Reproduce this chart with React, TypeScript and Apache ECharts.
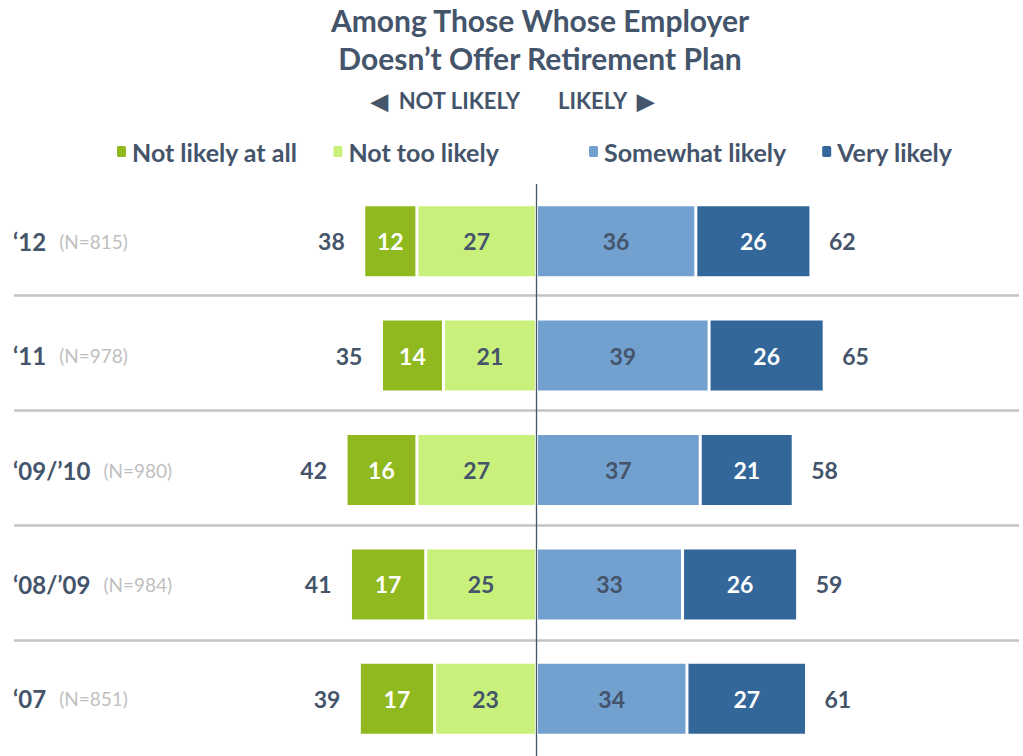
import React, { useEffect, useRef } from "react";
import * as echarts from "echarts";

const categories = ["\u201812", "\u201811", "\u201809/\u201910", "\u201808/\u201909", "\u201807"];
const sampleSizes = [815, 978, 980, 984, 851];
const notLikelyAtAll = [12, 14, 16, 17, 17];
const notTooLikely = [27, 21, 27, 25, 23];
const somewhatLikely = [36, 39, 37, 33, 34];
const veryLikely = [26, 26, 21, 26, 27];
const totalNotLikely = [38, 35, 42, 41, 39];
const totalLikely = [62, 65, 58, 59, 61];

const DARK = "#44546a";
const FONT = "Lato, 'Open Sans', sans-serif";

export default function App() {
  const ref = useRef<HTMLDivElement>(null);
  useEffect(() => {
    if (!ref.current) return;
    const chart = echarts.init(ref.current, undefined, { renderer: "svg" });
    const insideLabel = (color: string) => ({
      show: true,
      position: "inside",
      color,
      fontFamily: FONT,
      fontWeight: "bold",
      fontSize: 23,
      formatter: (p: any) => String(Math.abs(p.value)),
    });
    const barCommon = {
      type: "bar",
      stack: "total",
      barWidth: 73,
      itemStyle: { borderColor: "#ffffff", borderWidth: 1.5 },
    };
    const totalLabel = (position: string, distance: number, values: number[]) => ({
      show: true,
      position,
      distance,
      fontFamily: FONT,
      fontWeight: "bold",
      fontSize: 23,
      color: DARK,
      opacity: 1,
      formatter: (p: any) => String(values[p.dataIndex]),
    });
    const legendText = { fontFamily: FONT, fontWeight: "bold", fontSize: 25, color: DARK };
    chart.setOption({
      animation: false,
      backgroundColor: "#ffffff",
      title: {
        text: "Among Those Whose Employer\nDoesn\u2019t Offer Retirement Plan",
        left: 535,
        textAlign: "center",
        top: -4,
        textStyle: {
          fontFamily: FONT,
          fontWeight: "bold",
          fontSize: 30,
          lineHeight: 38,
          color: DARK,
        },
      },
      graphic: [
        {
          type: "text",
          x: 520,
          y: 100,
          style: {
            text: "\u25C0  NOT LIKELY",
            textAlign: "right",
            textVerticalAlign: "middle",
            font: `bold 22px ${FONT}`,
            fill: DARK,
          },
        },
        {
          type: "text",
          x: 558,
          y: 100,
          style: {
            text: "LIKELY  \u25B6",
            textAlign: "left",
            textVerticalAlign: "middle",
            font: `bold 22px ${FONT}`,
            fill: DARK,
          },
        },
      ],
      legend: [
        {
          data: ["Not likely at all", "Not too likely"],
          left: 115,
          top: 139,
          itemWidth: 11,
          itemHeight: 13,
          itemGap: 34,
          padding: 0,
          textStyle: legendText,
        },
        {
          data: ["Somewhat likely", "Very likely"],
          left: 587,
          top: 139,
          itemWidth: 11,
          itemHeight: 13,
          itemGap: 34,
          padding: 0,
          textStyle: legendText,
        },
      ],
      grid: [
        { left: 14, top: 184, width: 1005, height: 575, containLabel: false },
        { left: 14, top: 180, width: 1005, height: 575, containLabel: false },
      ],
      xAxis: [
        { type: "value", gridIndex: 0, min: -118, max: 109, show: false },
        { type: "value", gridIndex: 1, min: -118, max: 109, show: false },
      ],
      yAxis: [
        {
          type: "category",
          gridIndex: 0,
          data: categories,
          inverse: true,
          axisLine: { show: false },
          axisTick: { show: false },
          splitLine: { show: false },
          axisLabel: {
            inside: true,
            margin: -1,
            formatter: (value: string, index: number) =>
              `{a|${value}}{b|(N=${sampleSizes[index]})}`,
            rich: {
              a: { fontFamily: FONT, fontWeight: "bold", fontSize: 24, color: DARK },
              b: {
                fontFamily: FONT,
                fontSize: 19,
                color: "#bfbfbf",
                padding: [0, 0, 0, 13],
              },
            },
          },
        },
        {
          type: "category",
          gridIndex: 1,
          data: categories,
          inverse: true,
          axisLine: { show: false },
          axisTick: { show: false },
          axisLabel: { show: false },
          splitLine: {
            show: true,
            showMinLine: false,
            showMaxLine: false,
            lineStyle: { color: "#c3c3c3", width: 2.5 },
          },
        },
      ],
      series: [
        {
          ...barCommon,
          name: "Not too likely",
          color: "#c9f07b",
          data: notTooLikely.map((v) => -v),
          label: insideLabel(DARK),
          markLine: {
            silent: true,
            symbol: "none",
            label: { show: false },
            lineStyle: { color: DARK, width: 1.3, type: "solid" },
            data: [{ xAxis: 0 }],
            z: 10,
          },
        },
        {
          ...barCommon,
          name: "Not likely at all",
          color: "#8fb91e",
          data: notLikelyAtAll.map((v) => -v),
          label: insideLabel("#ffffff"),
        },
        {
          ...barCommon,
          name: "Somewhat likely",
          color: "#72a0cf",
          data: somewhatLikely,
          label: insideLabel(DARK),
        },
        {
          ...barCommon,
          name: "Very likely",
          color: "#336699",
          data: veryLikely,
          label: insideLabel("#ffffff"),
        },
        {
          type: "scatter",
          name: "leftTotal",
          symbolSize: 0,
          itemStyle: { color: DARK, opacity: 1 },
          data: notLikelyAtAll.map((v, i) => [-(v + notTooLikely[i]), i]),
          label: totalLabel("left", 19, totalNotLikely),
        },
        {
          type: "scatter",
          name: "rightTotal",
          symbolSize: 0,
          itemStyle: { color: DARK, opacity: 1 },
          data: somewhatLikely.map((v, i) => [v + veryLikely[i], i]),
          label: totalLabel("right", 18, totalLikely),
        },
      ],
    });
    return () => chart.dispose();
  }, []);
  return (
    <div
      ref={ref}
      style={{ position: "absolute", left: 0, top: 0, width: 1023, height: 756 }}
    />
  );
}
